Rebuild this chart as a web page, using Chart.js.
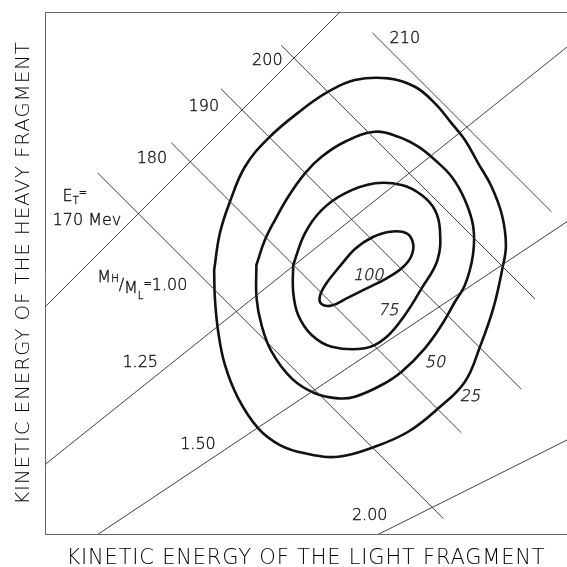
<!DOCTYPE html>
<html>
<head>
<meta charset="utf-8">
<script src="https://cdn.jsdelivr.net/npm/chart.js@4.4.1/dist/chart.umd.min.js"></script>
<style>
  html, body { margin: 0; padding: 0; background: #fff; }
  #wrap { width: 567px; height: 567px; }
</style>
</head>
<body>
<div id="wrap"><canvas id="chart"></canvas></div>
<script>
// Total kinetic energy E_T = E_L + E_H (MeV), each line drawn between two E_L values
const totalEnergies = [170, 180, 190, 200, 210];
const totalLineFrom = [81.1, 88.2, 93.0, 98.8, 107.6];
const totalLineTo = [114.4, 116.1, 121.9, 123.2, 124.8];

// Mass ratio lines M_H/M_L, E_H = E_L / ratio (momentum conservation)
const massRatios = [1.00, 1.25, 1.50, 2.00];

// Contour levels (relative yield) and their outlines as [E_L, E_H] in MeV
const contourLevels = [25, 50, 75, 100];
const contour25 = [
  [92.31, 79.56], [92.86, 83.10], [93.83, 86.14], [95.28, 89.52], [97.52, 92.26],
  [100.74, 94.99], [103.31, 96.75], [105.88, 97.88], [109.09, 98.04], [111.67, 97.23],
  [113.60, 95.63], [115.21, 93.70], [116.49, 92.09], [117.77, 89.85], [119.06, 87.59],
  [120.06, 84.86], [120.44, 81.97], [120.11, 79.75], [119.22, 75.86], [117.94, 72.16],
  [116.49, 68.79], [113.92, 66.22], [111.02, 63.96], [107.81, 62.52], [104.27, 61.55],
  [101.06, 61.88], [98.65, 62.68], [96.56, 64.29], [94.63, 67.18], [93.35, 70.40],
  [92.70, 73.61], [92.38, 76.83]
];
const contour50 = [
  [96.38, 80.04], [97.20, 82.45], [98.17, 84.38], [99.45, 86.63], [101.06, 88.88],
  [102.67, 90.48], [104.92, 91.93], [107.81, 92.89], [110.06, 92.41], [111.99, 91.45],
  [113.60, 90.16], [115.21, 88.55], [116.49, 86.31], [117.29, 83.73], [117.26, 81.00],
  [116.49, 78.11], [115.53, 76.50], [114.24, 74.25], [112.63, 72.01], [110.39, 69.75],
  [108.46, 68.47], [105.88, 67.34], [104.27, 67.18], [102.03, 67.67], [99.78, 69.11],
  [97.85, 71.68], [96.88, 74.25], [96.40, 76.83]
];
const contour75 = [
  [99.93, 80.04], [101.06, 83.10], [102.67, 85.34], [104.92, 86.95], [107.81, 87.92],
  [110.39, 87.75], [112.31, 86.79], [113.60, 85.34], [114.08, 83.41], [113.84, 80.52],
  [112.31, 77.79], [110.70, 75.22], [108.78, 72.97], [106.85, 72.01], [103.64, 72.16],
  [101.71, 73.29], [100.41, 75.22], [99.93, 77.46]
];
const contour100 = [
  [104.44, 79.94], [105.88, 81.58], [107.52, 82.69], [109.26, 83.25], [110.87, 83.10],
  [111.50, 82.06], [111.28, 80.81], [110.42, 79.75], [108.94, 78.76], [107.01, 77.79],
  [105.08, 76.83], [103.64, 76.13], [102.65, 76.28], [102.51, 77.05], [103.15, 78.30]
];
const contours = [contour25, contour50, contour75, contour100];

// Where the labels sit, [E_L, E_H]
const totalLabelAt = [[80.04, 84.41], [86.31, 90.36], [91.32, 95.41], [97.44, 99.85], [110.70, 101.93]];
const totalTagAt = [78.88, 86.75];
const ratioLabelAt = [[85.39, 78.14], [85.18, 70.73], [90.75, 62.78], [107.31, 55.98]];
const contourLabelAt = [[116.97, 67.44], [113.60, 70.71], [109.09, 75.70], [107.16, 79.07]];

const FONT = "'DejaVu Sans', sans-serif";
const INK = '#111';
const GRID = '#2a2a2a';

const datasets = [];

totalEnergies.forEach((et, i) => {
  datasets.push({
    data: [totalLineFrom[i], totalLineTo[i]].map(el => ({ x: el, y: et - el })),
    borderColor: GRID,
    borderWidth: 0.9
  });
});

massRatios.forEach(r => {
  datasets.push({
    data: [60, 140].map(el => ({ x: el, y: el / r })),
    borderColor: GRID,
    borderWidth: 0.9
  });
});

contours.forEach(pts => {
  const closed = pts.concat([pts[0]]);
  datasets.push({
    data: closed.map(p => ({ x: p[0], y: p[1] })),
    borderColor: INK,
    borderWidth: 2.6,
    tension: 0.4
  });
});

// text runs: t = text, s = font size, dy = baseline shift
const plotLabels = [];
totalEnergies.forEach((et, i) => {
  const txt = i === 0 ? et + ' Mev' : String(et);
  plotLabels.push({ at: totalLabelAt[i], runs: [{ t: txt }] });
});
plotLabels.push({ at: totalTagAt, runs: [{ t: 'E' }, { t: 'T', s: 10, dy: 3.5 }, { t: '=', s: 10, dy: -5 }] });
massRatios.forEach((r, i) => {
  const runs = [{ t: r.toFixed(2) }];
  if (i === 0) {
    runs.unshift(
      { t: 'M', dy: -8 }, { t: 'H', s: 10, dy: -8 }, { t: '/', dy: 0 },
      { t: 'M', dy: 3 }, { t: 'L', s: 10, dy: 9 }, { t: '=', s: 10, dy: -3 }
    );
  }
  plotLabels.push({ at: ratioLabelAt[i], runs });
});
contourLevels.forEach((lv, i) => {
  plotLabels.push({ at: contourLabelAt[i], runs: [{ t: String(lv) }], slant: true });
});

function drawRuns(ctx, runs, cx, cy, slant) {
  const base = 16;
  let width = 0;
  runs.forEach(r => {
    ctx.font = '200 ' + (r.s || base) + 'px ' + FONT;
    r.w = ctx.measureText(r.t).width;
    width += r.w;
  });
  let x = cx - width / 2;
  const baseline = cy + base * 0.33;
  runs.forEach(r => {
    ctx.font = '200 ' + (r.s || base) + 'px ' + FONT;
    ctx.save();
    ctx.translate(x, baseline + (r.dy || 0));
    if (slant) ctx.transform(1, 0, -0.22, 1, 0, 0);
    ctx.fillText(r.t, 0, 0);
    ctx.strokeText(r.t, 0, 0); // a touch heavier, like pen lettering
    ctx.restore();
    x += r.w;
  });
}

const labelPlugin = {
  id: 'plotLabels',
  beforeDraw(chart) {
    chart.ctx.letterSpacing = '0.8px';
  },
  afterDatasetsDraw(chart) {
    const { ctx, scales: { x, y } } = chart;
    ctx.save();
    ctx.letterSpacing = '0px';
    ctx.fillStyle = INK;
    ctx.strokeStyle = INK;
    ctx.lineWidth = 0.35;
    ctx.textAlign = 'left';
    ctx.textBaseline = 'alphabetic';
    plotLabels.forEach(lbl => {
      drawRuns(ctx, lbl.runs, x.getPixelForValue(lbl.at[0]), y.getPixelForValue(lbl.at[1]), lbl.slant);
    });
    ctx.restore();
  }
};

const hidden = { display: false, drawTicks: false };

new Chart(document.getElementById('chart'), {
  type: 'scatter',
  data: { datasets },
  options: {
    responsive: true,
    maintainAspectRatio: false,
    animation: false,
    events: [],
    layout: { padding: { left: 0, right: 0, top: 12, bottom: 0 } },
    elements: {
      point: { radius: 0 },
      line: { fill: false, borderCapStyle: 'round', borderJoinStyle: 'round' }
    },
    datasets: { scatter: { showLine: true } },
    scales: {
      x: {
        type: 'linear',
        min: 76,
        max: 126.33,
        grid: hidden,
        ticks: { display: false },
        border: { display: true, color: '#666', width: 1 },
        title: {
          display: true,
          text: 'KINETIC ENERGY OF THE LIGHT FRAGMENT',
          color: '#000',
          font: { family: FONT, size: 21, weight: '200', lineHeight: 1 },
          padding: { top: 14, bottom: -2 }
        }
      },
      xTop: {
        type: 'linear',
        position: 'top',
        min: 76,
        max: 126.33,
        grid: hidden,
        ticks: { display: false },
        border: { display: true, color: '#666', width: 1 }
      },
      y: {
        type: 'linear',
        min: 54.1,
        max: 104.44,
        grid: hidden,
        ticks: { display: false },
        border: { display: true, color: '#666', width: 1 },
        title: {
          display: true,
          text: 'KINETIC ENERGY OF THE HEAVY FRAGMENT',
          color: '#000',
          font: { family: FONT, size: 20, weight: '200', lineHeight: 1 },
          padding: { top: 13.5, bottom: 11.5 }
        }
      }
    },
    plugins: {
      legend: { display: false },
      tooltip: { enabled: false }
    }
  },
  plugins: [labelPlugin]
});
</script>
</body>
</html>
